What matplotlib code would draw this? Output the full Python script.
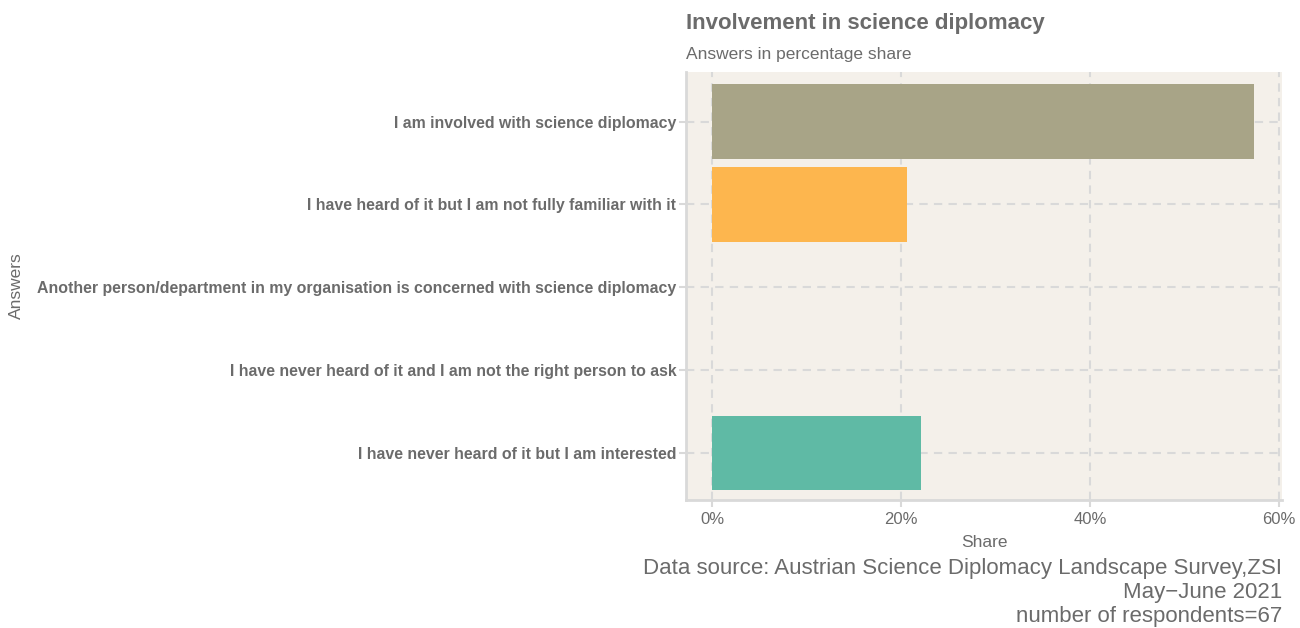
import matplotlib
matplotlib.use("Agg")
from matplotlib import pyplot as plt
from matplotlib.ticker import FuncFormatter

answers = [
    "I am involved with science diplomacy",
    "I have heard of it but I am not fully familiar with it",
    "Another person/department in my organisation is concerned with science diplomacy",
    "I have never heard of it and I am not the right person to ask",
    "I have never heard of it but I am interested",
]
share = [57.35, 20.59, 0.0, 0.0, 22.06]
bar_colors = ["#A8A487", "#FDB64E", "#A6D854", "#E78AC3", "#5FBAA5"]

title = "Involvement in science diplomacy"
subtitle = "Answers in percentage share"
caption = "Data source: Austrian Science Diplomacy Landscape Survey,ZSI\nMay\u2212June 2021\nnumber of respondents=67"

grey = "#6B6B6B"
line_grey = "#D9D9D9"
plt.rcParams["font.family"] = ["Liberation Sans", "DejaVu Sans"]

fig = plt.figure(figsize=(13, 6.28), dpi=100)
ax = fig.add_axes([686/1300, 1 - 500/628, (1282-686)/1300, (500-72)/628])
ax.set_facecolor("#F4F0EA")

ypos = list(range(len(answers)))
ax.barh(ypos, share, height=0.9, color=bar_colors, zorder=3)

ax.set_xlim(-2.75, 60.3)
ax.set_ylim(len(answers) - 0.43, -0.6)
ax.set_xticks([0, 20, 40, 60])
ax.xaxis.set_major_formatter(FuncFormatter(lambda v, p: "%d%%" % v))
ax.set_yticks(ypos)
ax.set_yticklabels(answers, fontweight="bold", fontsize=11.4, color=grey,
                   family=["Liberation Sans Narrow", "Liberation Sans", "DejaVu Sans"])
ax.tick_params(axis="x", labelsize=12, labelcolor=grey, color=line_grey, length=5, width=1.5)
ax.tick_params(axis="y", color=line_grey, length=5, width=1.5, pad=2)

ax.grid(True, color=line_grey, linestyle=(0, (4, 3)), linewidth=1.5, zorder=1)
for s in ["top", "right"]:
    ax.spines[s].set_visible(False)
for s in ["left", "bottom"]:
    ax.spines[s].set_color(line_grey)
    ax.spines[s].set_linewidth(2)

ax.set_xlabel("Share", fontsize=12.5, color=grey, labelpad=6)
ax.set_ylabel("Answers", fontsize=12.5, color=grey)
ax.yaxis.set_label_coords((24 - 686) / 596, 0.5)

fig.text(686/1300, 1 - 23/628, title, fontsize=16, fontweight="bold", color=grey, va="center", ha="left")
fig.text(686/1300, 1 - 54/628, subtitle, fontsize=12.5, color=grey, va="center", ha="left")
fig.text(1282/1300, 1 - 558/628, caption, fontsize=16, color=grey, va="top", ha="right", linespacing=1.18)

fig.savefig("out.png", dpi=100)
plt.close(fig)
